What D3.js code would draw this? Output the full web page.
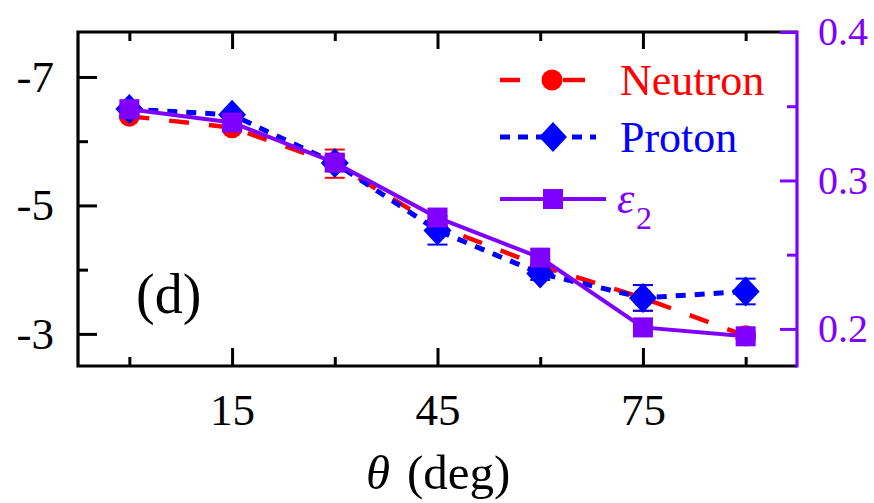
<!DOCTYPE html>
<html>
<head>
<meta charset="utf-8">
<script src="https://cdn.jsdelivr.net/npm/d3@7"></script>
<style>
  html, body { margin: 0; padding: 0; background: #fff; }
  svg { display: block; }
</style>
</head>
<body>
<svg id="chart" width="874" height="503"></svg>
<script>
// ---- data ----
const theta = [0, 15, 30, 45, 60, 75, 90];
const neutron = [-6.39, -6.21, -5.65, -4.68, -4.06, -3.56, -2.97];
const neutronErr = [0, 0, 0.22, 0.10, 0.10, 0.20, 0.05];
const proton = [-6.50, -6.41, -5.66, -4.61, -3.94, -3.56, -3.66];
const protonErr = [0, 0, 0.12, 0.22, 0.10, 0.20, 0.20];
const epsilon2 = [0.348, 0.339, 0.312, 0.275, 0.248, 0.201, 0.195];

const xMajorTicks = [15, 45, 75];
const xMinorTicks = [0, 30, 60, 90];
const yLeftMajor = [-7, -5, -3];
const yLeftMinor = [-6, -4];
const yRightMajor = [0.2, 0.3, 0.4];
const yRightMinor = [0.25, 0.35];
const legendLabels = ["Neutron", "Proton", "ε"];

// ---- layout ----
const FONT = '"Liberation Serif"';
const RED = "#ff0000", BLUE = "#0000ff", PURPLE = "#8000ff";
const L = 78, R = 797, T = 32, B = 366;
const svg = d3.select("#chart");

const x = d3.scaleLinear().domain([-7.5, 97.5]).range([L, R]);
const yL = d3.scaleLinear().domain([-7.7, -2.5]).range([T, B]);
const yR = d3.scaleLinear().domain([0.4, 0.175]).range([T, B]);

function styleAxis(g, color, fs) {
  g.attr("font-family", FONT).attr("font-size", fs);
  g.select(".domain").remove();
  g.selectAll(".tick line").attr("stroke", color).attr("stroke-width", 3);
  g.selectAll(".tick text").attr("fill", color).attr("font-family", FONT).attr("font-size", fs);
}

function addText(parent, xPos, yPos, str, size, color, italic) {
  return parent.append("text").attr("x", xPos).attr("y", yPos)
    .attr("font-family", FONT).attr("font-size", size)
    .attr("font-style", italic ? "italic" : "normal")
    .attr("fill", color || "#000").text(str);
}

// bottom axis
svg.append("g").attr("transform", `translate(0,${B})`)
  .call(d3.axisBottom(x).tickValues(xMajorTicks).tickSize(-18).tickPadding(27).tickFormat(d3.format("d")))
  .call(g => styleAxis(g, "#000", 45));
svg.append("g").attr("transform", `translate(0,${B})`)
  .call(d3.axisBottom(x).tickValues(xMinorTicks).tickSize(-9).tickFormat(""))
  .call(g => styleAxis(g, "#000", 45));
// top axis
svg.append("g").attr("transform", `translate(0,${T})`)
  .call(d3.axisTop(x).tickValues(xMajorTicks).tickSize(-17).tickFormat(""))
  .call(g => styleAxis(g, "#000", 45));
svg.append("g").attr("transform", `translate(0,${T})`)
  .call(d3.axisTop(x).tickValues(xMinorTicks).tickSize(-9).tickFormat(""))
  .call(g => styleAxis(g, "#000", 45));
// left axis
svg.append("g").attr("transform", `translate(${L},0)`)
  .call(d3.axisLeft(yL).tickValues(yLeftMajor).tickSize(-19).tickPadding(24).tickFormat(d => "-" + Math.abs(d)))
  .call(g => styleAxis(g, "#000", 45));
svg.append("g").attr("transform", `translate(${L},0)`)
  .call(d3.axisLeft(yL).tickValues(yLeftMinor).tickSize(-10).tickFormat(""))
  .call(g => styleAxis(g, "#000", 45));

// frame (black top/left/bottom)
svg.append("path")
  .attr("d", `M${R},${T}H${L}V${B}H${R}`)
  .attr("fill", "none").attr("stroke", "#000").attr("stroke-width", 3.2);

// right axis (purple)
svg.append("line").attr("x1", R).attr("x2", R).attr("y1", T - 1.5).attr("y2", B + 1.5)
  .attr("stroke", PURPLE).attr("stroke-width", 3.2);
svg.append("g").attr("transform", `translate(${R},0)`)
  .call(d3.axisRight(yR).tickValues(yRightMajor).tickSize(-17).tickPadding(21).tickFormat(d3.format(".1f")))
  .call(g => styleAxis(g, PURPLE, 40));
svg.append("g").attr("transform", `translate(${R},0)`)
  .call(d3.axisRight(yR).tickValues(yRightMinor).tickSize(-10).tickFormat(""))
  .call(g => styleAxis(g, PURPLE, 40));

// ---- series ----
const nData = theta.map((t, i) => ({ t, v: neutron[i], e: neutronErr[i] }));
const pData = theta.map((t, i) => ({ t, v: proton[i], e: protonErr[i] }));
const eData = theta.map((t, i) => ({ t, v: epsilon2[i] }));

const lineL = d3.line().x(d => x(d.t)).y(d => yL(d.v));
const lineR = d3.line().x(d => x(d.t)).y(d => yR(d.v));

function errorBars(data, color) {
  const g = svg.append("g").attr("stroke", color).attr("stroke-width", 2).attr("fill", "none");
  data.filter(d => d.e > 0).forEach(d => {
    const cx = x(d.t), y1 = yL(d.v - d.e), y2 = yL(d.v + d.e);
    g.append("line").attr("x1", cx).attr("x2", cx).attr("y1", y1).attr("y2", y2);
    g.append("line").attr("x1", cx - 10).attr("x2", cx + 10).attr("y1", y1).attr("y2", y1);
    g.append("line").attr("x1", cx - 10).attr("x2", cx + 10).attr("y1", y2).attr("y2", y2);
  });
}

// neutron
errorBars(nData, RED);
svg.append("path").datum(nData).attr("d", lineL)
  .attr("fill", "none").attr("stroke", RED).attr("stroke-width", 4.5).attr("stroke-dasharray", "20,20");
svg.append("g").selectAll("circle").data(nData).join("circle")
  .attr("cx", d => x(d.t)).attr("cy", d => yL(d.v)).attr("r", 10.5).attr("fill", RED);

// proton
errorBars(pData, BLUE);
svg.append("path").datum(pData).attr("d", lineL)
  .attr("fill", "none").attr("stroke", BLUE).attr("stroke-width", 5).attr("stroke-dasharray", "10,9");
svg.append("g").selectAll("path").data(pData).join("path")
  .attr("transform", d => `translate(${x(d.t)},${yL(d.v)})`)
  .attr("d", "M0,-15L14,0L0,15L-14,0Z").attr("fill", BLUE);

// epsilon2
svg.append("path").datum(eData).attr("d", lineR)
  .attr("fill", "none").attr("stroke", PURPLE).attr("stroke-width", 4);
svg.append("g").selectAll("rect").data(eData).join("rect")
  .attr("x", d => x(d.t) - 10).attr("y", d => yR(d.v) - 10)
  .attr("width", 20).attr("height", 20).attr("fill", PURPLE);

// ---- legend ----
const lg = svg.append("g");
// neutron
lg.append("line").attr("x1", 500).attr("x2", 520).attr("y1", 80).attr("y2", 80)
  .attr("stroke", RED).attr("stroke-width", 4.5);
lg.append("line").attr("x1", 563).attr("x2", 585).attr("y1", 80).attr("y2", 80)
  .attr("stroke", RED).attr("stroke-width", 4.5);
lg.append("circle").attr("cx", 552).attr("cy", 80).attr("r", 10.5).attr("fill", RED);
addText(lg, 620, 95, legendLabels[0], 44, RED, false);
// proton
lg.append("line").attr("x1", 500).attr("x2", 596).attr("y1", 137).attr("y2", 137)
  .attr("stroke", BLUE).attr("stroke-width", 5).attr("stroke-dasharray", "10,8");
lg.append("path").attr("transform", "translate(553,137)")
  .attr("d", "M0,-15L14,0L0,15L-14,0Z").attr("fill", BLUE);
addText(lg, 620, 152, legendLabels[1], 44, BLUE, false);
// epsilon2
lg.append("line").attr("x1", 500).attr("x2", 606).attr("y1", 199).attr("y2", 199)
  .attr("stroke", PURPLE).attr("stroke-width", 4);
lg.append("rect").attr("x", 543).attr("y", 189).attr("width", 20).attr("height", 20).attr("fill", PURPLE);
addText(lg, 617, 213, legendLabels[2], 44, PURPLE, true);
addText(lg, 636, 229, "2", 32, PURPLE, false);

// panel label
addText(svg, 136, 313, "(d)", 56, "#000", false);

// x-axis title
addText(svg, 366, 489, "θ", 49, "#000", true);
addText(svg, 407, 489, "(deg)", 49, "#000", false);
</script>
</body>
</html>
